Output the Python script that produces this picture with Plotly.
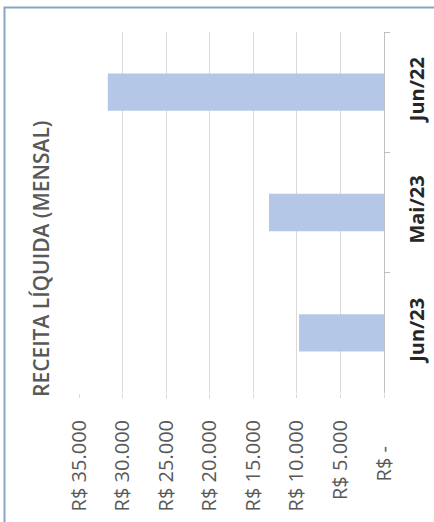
import plotly.graph_objects as go

# dados do gráfico
meses = ["Jun/22", "Mai/23", "Jun/23"]
receita = [31700, 13200, 9750]
ticks_valor = [0, 5000, 10000, 15000, 20000, 25000, 30000, 35000]
ticks_texto = ["R$ -" + "\u00a0" * 5, "R$ 5.000", "R$ 10.000", "R$ 15.000",
               "R$ 20.000", "R$ 25.000", "R$ 30.000", "R$ 35.000"]
titulo = "RECEITA LÍQUIDA (MENSAL)"

fonte = "Open Sans"
cinza = "#595959"

fig = go.Figure()
fig.add_trace(go.Bar(
    x=receita, y=meses,
    orientation="h",
    marker=dict(color="#b4c7e7", line=dict(width=0)),
    hoverinfo="skip",
    showlegend=False,
))

fig.update_layout(
    width=434, height=522,
    margin=dict(l=79, r=50, t=32, b=129),
    paper_bgcolor="white",
    plot_bgcolor="white",
    bargap=0.69,
    showlegend=False,
)

fig.update_xaxes(
    range=[35000, 0],
    tickvals=ticks_valor,
    ticktext=ticks_texto,
    tickangle=-90,
    tickfont=dict(family=fonte, size=20, color=cinza),
    showgrid=True,
    gridcolor="#d9d9d9",
    gridwidth=1,
    zeroline=False,
    showline=False,
    ticks="outside",
    ticklen=4,
    tickcolor="#d9d9d9",
    ticklabelstandoff=14,
    automargin=False,
)

fig.update_yaxes(
    side="right",
    autorange="reversed",
    tickangle=-90,
    tickfont=dict(family=fonte, size=20, color="#262626", weight="bold"),
    showline=True,
    linecolor="#bfbfbf",
    linewidth=1,
    ticks="outside",
    ticklen=5,
    tickcolor="#bfbfbf",
    tickson="boundaries",
    showgrid=False,
    ticklabelstandoff=15,
    automargin=False,
)

# título girado à esquerda
fig.add_annotation(
    text=titulo,
    xref="paper", yref="paper",
    x=(41 - 79) / 305, y=(393 - 259) / 361,
    xanchor="center", yanchor="middle",
    textangle=-90,
    showarrow=False,
    font=dict(family=fonte, size=21, color=cinza, weight=600),
)

# borda do gráfico
fig.add_shape(
    type="rect",
    xref="paper", yref="paper",
    x0=(4.5 - 79) / 305, x1=1.5,
    y0=-1.0, y1=(393 - 7.5) / 361,
    line=dict(color="#8aa4c4", width=2),
    fillcolor="rgba(0,0,0,0)",
    layer="below",
)

# a página tem margem padrão de 8px no body
fig.write_html("out.html", config={"displayModeBar": False},
               post_script="document.body.style.margin='0';")
